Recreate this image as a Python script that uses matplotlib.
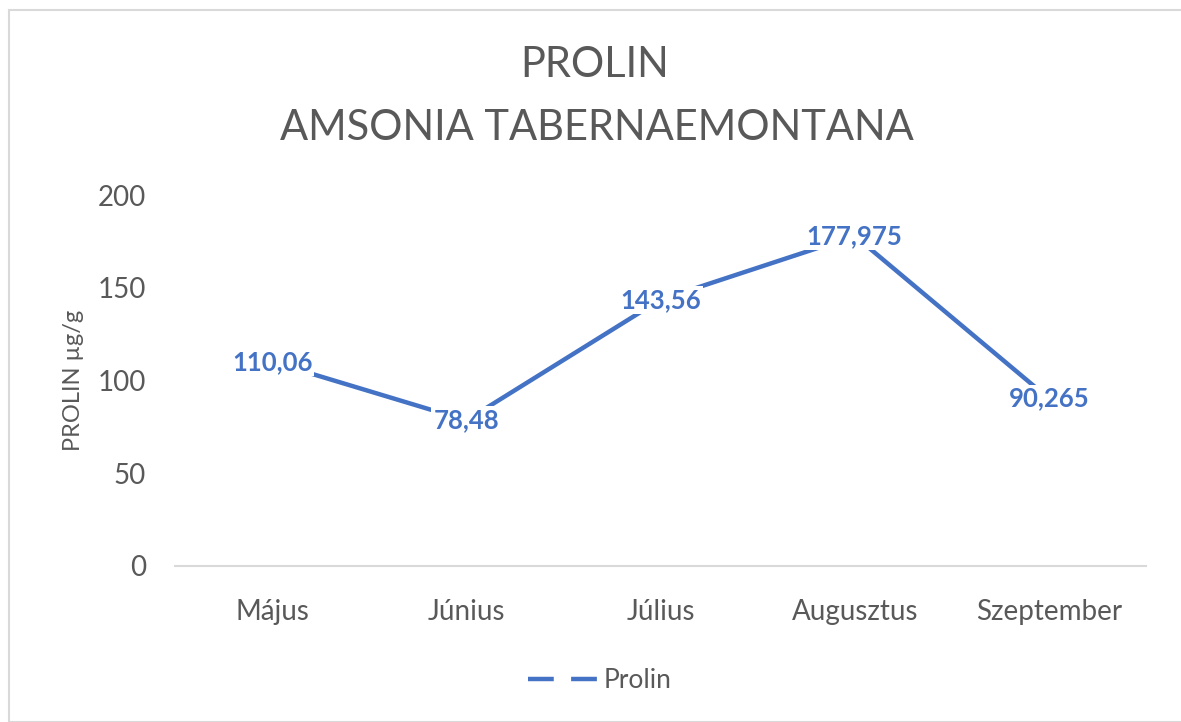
import matplotlib
matplotlib.use("Agg")
import matplotlib.pyplot as plt
from matplotlib.patches import Rectangle
from matplotlib.lines import Line2D

months = ["Május", "Június", "Július", "Augusztus", "Szeptember"]
prolin = [110.06, 78.48, 143.56, 177.975, 90.265]
labels = ["110,06", "78,48", "143,56", "177,975", "90,265"]
yticks = [0, 50, 100, 150, 200]

BLUE = "#4472C4"
GRAY = "#595959"
plt.rcParams["font.family"] = ["Lato", "DejaVu Sans"]

W, H = 1181, 722
fig = plt.figure(figsize=(W / 100, H / 100), dpi=100)

# chart border
fig.add_artist(Rectangle((9 / W, 0), 1.2, 1 - 10 / H, transform=fig.transFigure,
                         fill=False, edgecolor="#D9D9D9", linewidth=1.5))

ax = fig.add_axes([175 / W, 1 - 566 / H, (1146 - 175) / W, (566 - 195) / H])
x = list(range(len(months)))
ax.plot(x, prolin, color=BLUE, linewidth=3.2, solid_capstyle="butt", zorder=2)
for xi, yi, lab in zip(x, prolin, labels):
    ax.text(xi, yi, lab, ha="center", va="center", fontsize=18.5, fontweight="bold",
            color=BLUE, zorder=3,
            bbox=dict(facecolor="white", edgecolor="none", pad=1.5))

ax.set_xlim(-0.5, len(months) - 0.5)
ax.set_ylim(0, 200)
ax.set_yticks(yticks)
ax.set_xticks(x)
ax.set_xticklabels(months)
ax.tick_params(axis="both", length=0, labelsize=20, colors=GRAY)
ax.tick_params(axis="x", pad=24)
ax.tick_params(axis="y", pad=21)
for s in ["top", "right", "left"]:
    ax.spines[s].set_visible(False)
ax.spines["bottom"].set_color("#D9D9D9")
ax.spines["bottom"].set_linewidth(1.5)
ax.set_ylabel("PROLIN µg/g", fontsize=17, color=GRAY, labelpad=10)

fig.text(595 / W, 1 - 65 / H, "PROLIN", ha="center", va="center", fontsize=30,
         color=GRAY)
fig.text(597 / W, 1 - 128 / H, "AMSONIA TABERNAEMONTANA", ha="center", va="center",
         fontsize=30, color=GRAY)

handle = Line2D([], [], color=BLUE, linewidth=3.2, linestyle=(0, (5.8, 3.9)))
fig.legend([handle], ["Prolin"], loc="center", bbox_to_anchor=(600 / W, 1 - 681 / H),
           frameon=False, fontsize=19, labelcolor=GRAY, handlelength=2.65,
           handletextpad=0.2)

fig.savefig("out.png", dpi=100, facecolor="white")
